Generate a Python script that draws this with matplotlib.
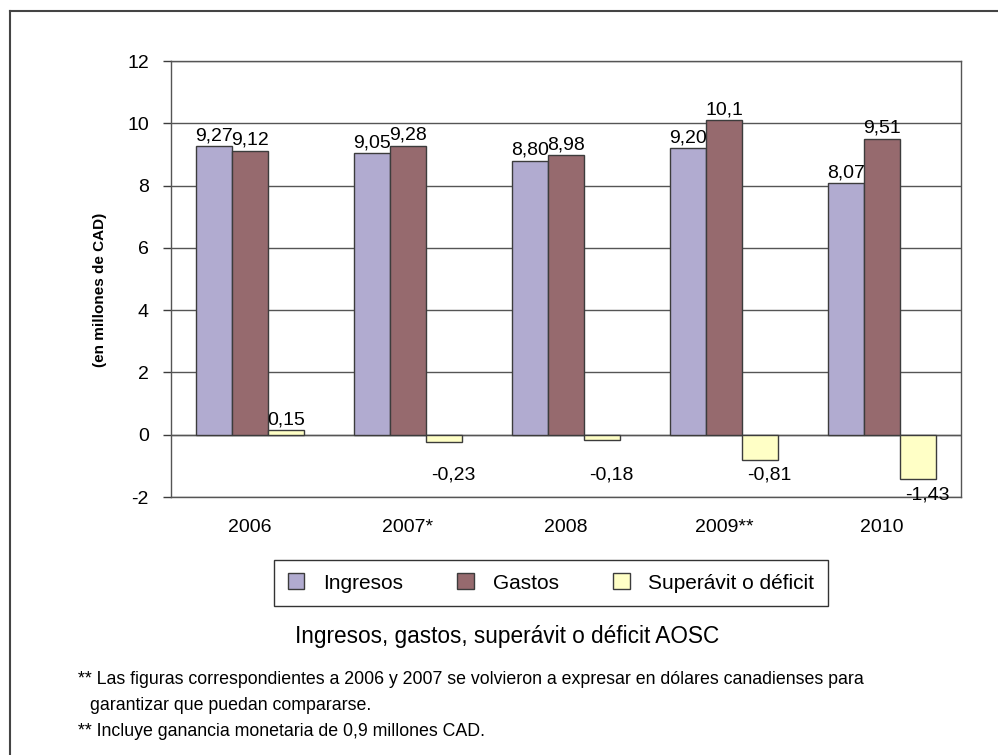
import numpy as np
import matplotlib
matplotlib.use('Agg')
import matplotlib.pyplot as plt
from matplotlib.lines import Line2D

plt.rcParams['font.family'] = ['Liberation Sans', 'DejaVu Sans']

years = ['2006', '2007*', '2008', '2009**', '2010']
ingresos = [9.27, 9.05, 8.80, 9.20, 8.07]
gastos = [9.12, 9.28, 8.98, 10.1, 9.51]
saldo = [0.15, -0.23, -0.18, -0.81, -1.43]

ingresos_lbl = ['9,27', '9,05', '8,80', '9,20', '8,07']
gastos_lbl = ['9,12', '9,28', '8,98', '10,1', '9,51']
saldo_lbl = ['0,15', '-0,23', '-0,18', '-0,81', '-1,43']

c_ing = '#B1ABD0'
c_gas = '#966A6E'
c_sal = '#FFFFC6'
edge = '#3C3C3C'

fig = plt.figure(figsize=(9.98, 7.55), dpi=100)
ax = fig.add_axes([171/998, 1-497/755, 790/998, 436/755])

x = np.arange(len(years))
w = 0.228
b1 = ax.bar(x - w, ingresos, w, color=c_ing, edgecolor=edge, linewidth=1, label='Ingresos', zorder=3)
b2 = ax.bar(x, gastos, w, color=c_gas, edgecolor=edge, linewidth=1, label='Gastos', zorder=3)
b3 = ax.bar(x + w, saldo, w, color=c_sal, edgecolor=edge, linewidth=1, label='Superávit o déficit', zorder=3)

fs = 14
for i in range(len(years)):
    ax.text(x[i] - w, ingresos[i] + 0.06, ingresos_lbl[i], ha='center', va='bottom', fontsize=fs)
    ax.text(x[i], gastos[i] + 0.06, gastos_lbl[i], ha='center', va='bottom', fontsize=fs)
    if saldo[i] >= 0:
        ax.text(x[i] + w, saldo[i] + 0.06, saldo_lbl[i], ha='center', va='bottom', fontsize=fs)
    else:
        ax.annotate(saldo_lbl[i], (x[i] + w + 0.06, min(saldo[i], -0.8)), xytext=(0, -5),
                    textcoords='offset points', ha='center', va='top', fontsize=fs)

ax.set_xlim(-0.5, 4.5)
ax.set_ylim(-2, 12)
ax.set_yticks(np.arange(-2, 13, 2))
ax.set_yticklabels([str(v) for v in range(-2, 13, 2)])
ax.set_xticks(x)
ax.set_xticklabels(years)
ax.tick_params(axis='x', length=0, pad=16, labelsize=fs)
ax.tick_params(axis='y', length=6, width=1, color=edge, pad=10, labelsize=fs)
ax.yaxis.grid(True, color='#555555', linewidth=1, zorder=0)
ax.axhline(0, color='#555555', linewidth=1, zorder=2)
for s in ax.spines.values():
    s.set_color('#555555')
    s.set_linewidth(1)

fig.text(100/998, 1-290/755, '(en millones de CAD)', rotation=90, ha='center', va='center',
         fontsize=11, fontweight='bold')

leg = fig.legend(handles=[b1, b2, b3], loc='center', bbox_to_anchor=(551/998, 1-583/755), ncol=3,
                 frameon=True, fancybox=False, edgecolor='black', fontsize=15,
                 handlelength=0.8, handleheight=0.8, handletextpad=0.9, columnspacing=2.6,
                 borderpad=0.65)
leg.get_frame().set_linewidth(1)

fig.text(507/998, 1-636/755, 'Ingresos, gastos, superávit o déficit AOSC', ha='center', va='center', fontsize=16.3)

fn = 12.8
fig.text(78/998, 1-680/755, '** Las figuras correspondientes a 2006 y 2007 se volvieron a expresar en dólares canadienses para',
         ha='left', va='center', fontsize=fn)
fig.text(90/998, 1-706/755, 'garantizar que puedan compararse.', ha='left', va='center', fontsize=fn)
fig.text(78/998, 1-732/755, '** Incluye ganancia monetaria de 0,9 millones CAD.', ha='left', va='center', fontsize=fn)

# outer frame (top and left only, the picture is cut on the other sides)
fig.add_artist(Line2D([9.5/998, 1.0], [1-10.5/755, 1-10.5/755], transform=fig.transFigure, color='#444444', linewidth=1.5))
fig.add_artist(Line2D([9.5/998, 9.5/998], [0, 1-10.5/755], transform=fig.transFigure, color='#444444', linewidth=1.5))

fig.savefig('out.png', dpi=100)
